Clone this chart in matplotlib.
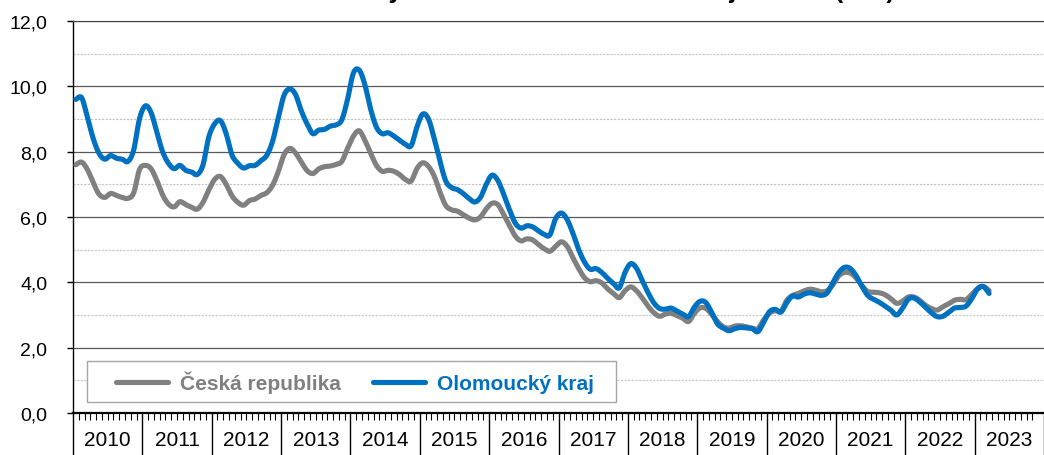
import numpy as np
import matplotlib
matplotlib.use("Agg")
import matplotlib.pyplot as plt
from matplotlib.lines import Line2D
from matplotlib.patches import Rectangle
import matplotlib.transforms as mtransforms

plt.rcParams['font.family'] = ['Liberation Sans', 'DejaVu Sans']

title = "Podíl nezaměstnaných osob v Olomouckém kraji a v ČR (v %)"
years = [str(y) for y in range(2010, 2024)]
series_names = ["Česká republika", "Olomoucký kraj"]
y_ticks = [0, 2, 4, 6, 8, 10, 12]
y_ticklabels = ["0,0", "2,0", "4,0", "6,0", "8,0", "10,0", "12,0"]

# monthly values Jan 2010 - Mar 2023
cr = [
    7.60, 7.68, 7.45, 7.05, 6.70, 6.60, 6.72, 6.66, 6.60, 6.57, 6.74, 7.45,   # 2010
    7.58, 7.48, 7.12, 6.68, 6.40, 6.31, 6.47, 6.38, 6.30, 6.24, 6.45, 6.83,   # 2011
    7.15, 7.24, 7.00, 6.65, 6.45, 6.36, 6.50, 6.55, 6.66, 6.74, 6.96, 7.38,   # 2012
    7.90, 8.10, 7.96, 7.68, 7.42, 7.33, 7.47, 7.54, 7.56, 7.61, 7.70, 8.10,   # 2013
    8.47, 8.64, 8.35, 7.95, 7.58, 7.40, 7.43, 7.40, 7.30, 7.15, 7.10, 7.48,   # 2014
    7.66, 7.55, 7.25, 6.76, 6.35, 6.22, 6.18, 6.07, 5.97, 5.91, 6.00, 6.25,   # 2015
    6.42, 6.38, 6.08, 5.74, 5.42, 5.27, 5.33, 5.30, 5.16, 5.03, 4.95, 5.10,   # 2016
    5.24, 5.10, 4.75, 4.42, 4.14, 4.02, 4.05, 3.98, 3.80, 3.66, 3.53, 3.74,   # 2017
    3.86, 3.74, 3.52, 3.27, 3.07, 2.96, 3.03, 3.05, 2.98, 2.90, 2.80, 3.05,   # 2018
    3.22, 3.20, 3.02, 2.80, 2.64, 2.60, 2.66, 2.67, 2.64, 2.60, 2.58, 2.85,   # 2019
    3.06, 3.13, 3.12, 3.45, 3.60, 3.66, 3.74, 3.79, 3.76, 3.71, 3.75, 3.93,   # 2020
    4.20, 4.30, 4.28, 4.13, 3.90, 3.72, 3.70, 3.68, 3.62, 3.50, 3.36, 3.42,   # 2021
    3.55, 3.55, 3.45, 3.30, 3.20, 3.15, 3.25, 3.34, 3.45, 3.48, 3.47, 3.63,   # 2022
    3.80, 3.87, 3.75,                                                         # 2023
]
olomoucky = [
    9.60, 9.65, 9.05, 8.40, 7.95, 7.77, 7.88, 7.80, 7.77, 7.70, 8.05, 9.00,   # 2010
    9.40, 9.20, 8.60, 8.00, 7.65, 7.48, 7.58, 7.43, 7.38, 7.30, 7.60, 8.45,   # 2011
    8.85, 8.95, 8.55, 7.90, 7.65, 7.50, 7.57, 7.58, 7.72, 7.88, 8.30, 9.02,   # 2012
    9.72, 9.92, 9.75, 9.25, 8.85, 8.55, 8.66, 8.68, 8.78, 8.82, 8.97, 9.60,   # 2013
    10.40, 10.50, 10.05, 9.30, 8.75, 8.55, 8.58, 8.48, 8.35, 8.23, 8.18, 8.75,  # 2014
    9.15, 9.00, 8.40, 7.70, 7.10, 6.90, 6.84, 6.72, 6.57, 6.46, 6.60, 7.00,   # 2015
    7.28, 7.12, 6.70, 6.23, 5.82, 5.66, 5.73, 5.70, 5.58, 5.47, 5.45, 5.95,   # 2016
    6.12, 5.92, 5.50, 5.00, 4.62, 4.40, 4.42, 4.30, 4.12, 3.97, 3.83, 4.30,   # 2017
    4.57, 4.43, 4.05, 3.68, 3.37, 3.20, 3.18, 3.21, 3.12, 3.03, 2.95, 3.24,   # 2018
    3.42, 3.38, 3.08, 2.73, 2.60, 2.52, 2.58, 2.62, 2.60, 2.58, 2.49, 2.78,   # 2019
    3.10, 3.17, 3.09, 3.38, 3.58, 3.55, 3.64, 3.68, 3.64, 3.60, 3.68, 4.00,   # 2020
    4.30, 4.46, 4.42, 4.20, 3.88, 3.60, 3.48, 3.39, 3.27, 3.15, 3.00, 3.20,   # 2021
    3.48, 3.52, 3.40, 3.24, 3.07, 2.95, 2.96, 3.08, 3.21, 3.23, 3.27, 3.50,   # 2022
    3.80, 3.87, 3.66,                                                         # 2023
]

colors = ["#808080", "#0070C0"]


def smooth(x, y, n=16):
    P = np.column_stack([x, y]).astype(float)
    P = np.vstack([P[0], P, P[-1]])
    out = []
    t = np.linspace(0, 1, n, endpoint=False)[:, None]
    for i in range(1, len(P) - 2):
        p0, p1, p2, p3 = P[i - 1], P[i], P[i + 1], P[i + 2]
        c = 0.5 * ((2 * p1) + (-p0 + p2) * t + (2 * p0 - 5 * p1 + 4 * p2 - p3) * t ** 2
                   + (-p0 + 3 * p1 - 3 * p2 + p3) * t ** 3)
        out.append(c)
    out.append(P[-2][None, :])
    out = np.vstack(out)
    return out[:, 0], out[:, 1]


W, H = 1044, 456
fig = plt.figure(figsize=(W / 100, H / 100), dpi=100)
ax = fig.add_axes([73 / W, (H - 414) / H, (W - 73) / W, (414 - 22) / H])

n_months = len(years) * 12
ax.set_xlim(0, 166.5)
ax.set_ylim(0, 12)

for vals, col in zip([cr, olomoucky], colors):
    x = np.arange(len(vals)) + 0.5
    xs, ys = smooth(x, vals)
    ax.plot(xs, ys, color=col, lw=3.7, solid_capstyle='round', solid_joinstyle='round', zorder=4)

# y axis
ax.set_yticks(y_ticks)
ax.set_yticklabels(y_ticklabels)
ax.set_yticks(np.arange(1, 12, 2), minor=True)
ax.tick_params(axis='y', which='major', length=4.5, width=1, direction='out', pad=14, labelsize=14)
ax.tick_params(axis='y', which='minor', length=0)
ax.grid(which='major', axis='y', color='#595959', lw=0.9, zorder=1)
ax.grid(which='minor', axis='y', color='#c4c4c4', lw=0.8, ls=(0, (2, 1.2)), zorder=1)

# x axis
ax.set_xticks(np.arange(0, n_months + 1, 12))
ax.set_xticklabels([])
ax.set_xticks(np.arange(0, 167, 1), minor=True)
ax.tick_params(axis='x', which='major', length=31, width=1, direction='out')
ax.tick_params(axis='x', which='minor', length=5, width=0.8, direction='out')
trans = mtransforms.blended_transform_factory(ax.transData, ax.transAxes)
for k, yl in enumerate(years):
    ax.text(12 * k + 6, -0.068, yl, transform=trans, ha='center', va='center', fontsize=15)

ax.spines['right'].set_visible(False)
ax.spines['top'].set_color('#404040')
ax.spines['left'].set_linewidth(1.0)
ax.spines['bottom'].set_linewidth(1.6)

# legend
rect = Rectangle((87 / W, (H - 403) / H), (616 - 87) / W, (403 - 362) / H,
                 transform=fig.transFigure, facecolor='white', edgecolor='#a6a6a6',
                 lw=1.0, zorder=3, clip_on=False)
ax.add_patch(rect)
handles = [Line2D([], [], color=c, lw=3.7, solid_capstyle='round') for c in colors]
leg = ax.legend(handles, series_names, ncol=2, frameon=False, loc='center',
                bbox_to_anchor=(355 / W, 1 - 383 / H), bbox_transform=fig.transFigure,
                prop={'weight': 'bold', 'size': 15}, handlelength=2.5, handletextpad=0.6,
                columnspacing=1.5, labelcolor='linecolor')
leg.set_zorder(5)

fig.text(162 / W, 1 + 2 / H, title, ha='left', va='baseline', fontsize=18, fontweight='bold')

fig.savefig("out.png", dpi=100)
